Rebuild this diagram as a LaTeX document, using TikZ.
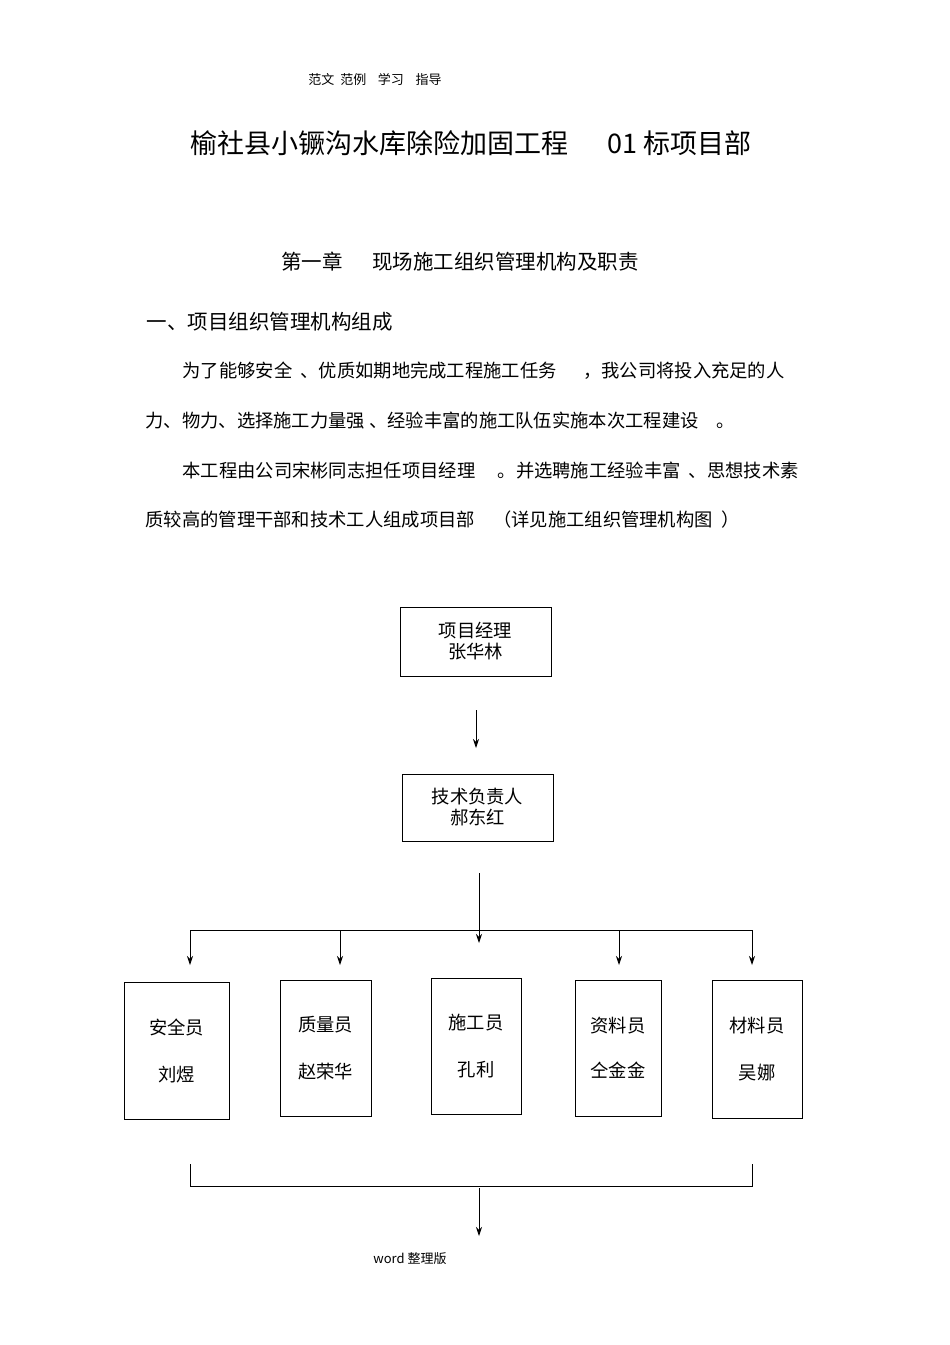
\documentclass[tikz,border=0pt]{standalone}
\usepackage{fontspec}
\usetikzlibrary{arrows.meta}
\setmainfont{Noto Sans CJK SC}
\begin{document}
\begin{tikzpicture}[x=1pt,y=-1pt,
  box/.style={draw,line width=0.9pt,inner sep=0pt},
  arr/.style={-{Stealth[length=9pt,width=6pt]},line width=0.9pt},
  ln/.style={line width=0.9pt},
  t/.style={font=\fontsize{18.3}{21}\selectfont}]
\useasboundingbox[fill=white] (0,0) rectangle (950,1345);
\node[font=\fontsize{13}{15}\selectfont] (hd) at (375,80) {范文\ \ 范例\ \ \ \ 学习\ \ \ \ 指导};
\node[font=\fontsize{27}{30}\selectfont] (ti) at (471,143) {榆社县小镢沟水库除险加固工程\quad\ \ 01 标项目部};
\node[font=\fontsize{20.5}{24}\selectfont] (ch) at (460,262) {第一章\quad\ \ 现场施工组织管理机构及职责};
\node[font=\fontsize{20.5}{24}\selectfont,anchor=west] (s1) at (143,322) {一、项目组织管理机构组成};
\node[t,anchor=west] (p1) at (179,371) {为了能够安全\ \ 、优质如期地完成工程施工任务\quad\ \ ，我公司将投入充足的人};
\node[t,anchor=west] (p2) at (142,421) {力、物力、选择施工力量强\ 、经验丰富的施工队伍实施本次工程建设\quad 。};
\node[t,anchor=west] (p3) at (179,471) {本工程由公司宋彬同志担任项目经理\quad\ 。并选聘施工经验丰富\ \ 、思想技术素};
\node[t,anchor=west] (p4) at (142,520) {质较高的管理干部和技术工人组成项目部\quad （详见施工组织管理机构图\ \ ）};
\node[box,minimum width=151,minimum height=69,t,align=center] (b1) at (475.5,641.5) {项目经理\\张华林};
\node[box,minimum width=151,minimum height=67,t,align=center] (b2) at (477.5,807.5) {技术负责人\\郝东红};
\coordinate (a1s) at (476,710); \coordinate (a1e) at (476,748);
\draw[arr] (a1s) -- (a1e);
\coordinate (a2s) at (479,873); \coordinate (a2e) at (479,943);
\draw[arr] (a2s) -- (a2e);
\coordinate (hl) at (190,930); \coordinate (hr) at (752,930);
\draw[ln] (hl) -- (hr);
\foreach \x in {190,340,619,752}{\draw[arr] (\x,930) -- (\x,965);}
\node[box,minimum width=105,minimum height=137,t,align=center] (c1) at (176.5,1050.5) {安全员\\[26pt]刘煜};
\node[box,minimum width=91,minimum height=136,t,align=center] (c2) at (325.5,1048) {质量员\\[26pt]赵荣华};
\node[box,minimum width=90,minimum height=136,t,align=center] (c3) at (476,1046) {施工员\\[26pt]孔利};
\node[box,minimum width=86,minimum height=136,t,align=center] (c4) at (618,1048) {资料员\\[24pt]仝金金};
\node[box,minimum width=90,minimum height=138,t,align=center] (c5) at (757,1049) {材料员\\[26pt]吴娜};
\coordinate (bl) at (190,1164); \coordinate (br) at (752,1164);
\draw[ln] (bl) -- (190,1186) -- (752,1186) -- (br);
\coordinate (a3s) at (479,1188); \coordinate (a3e) at (479,1236);
\draw[arr] (a3s) -- (a3e);
\node[font=\fontsize{13}{15}\selectfont] (ft) at (410,1259) {word 整理版};
\end{tikzpicture}
\end{document}
